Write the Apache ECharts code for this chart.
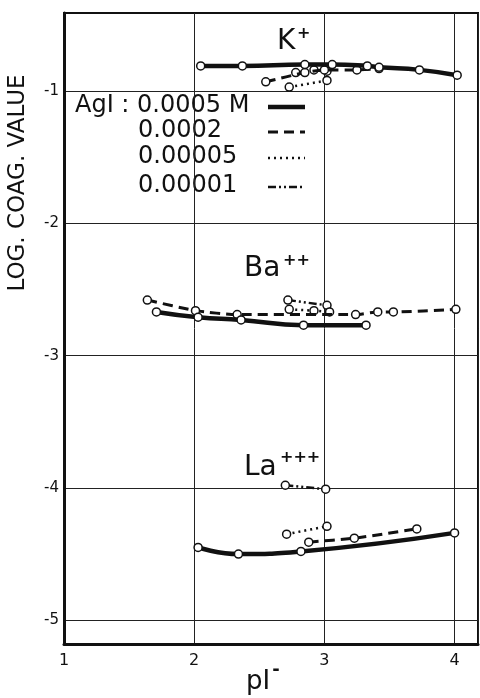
<!DOCTYPE html>
<html><head><meta charset="utf-8">
<script src="https://cdn.jsdelivr.net/npm/echarts@6/dist/echarts.min.js"></script>
<style>html,body{margin:0;padding:0;background:#fff}#c{width:480px;height:698px}</style>
</head><body><div id="c"></div>
<script>
// tick labels
const xTicks = [1, 2, 3, 4];
const yTicks = [-5, -4, -3, -2, -1];
// legend categories (AgI concentration)
const concentrations = ['0.0005 M', '0.0002', '0.00005', '0.00001'];
// K+ series  [pI-, log coag value]
const K_0005 = [[2.05,-0.81],[2.37,-0.81],[2.85,-0.80],[3.06,-0.80],[3.33,-0.81],[3.42,-0.82],[3.73,-0.84],[4.02,-0.88]];
const K_0002 = [[2.55,-0.93],[2.85,-0.86],[3.0,-0.84],[3.25,-0.84],[3.42,-0.83]];
const K_00005 = [[2.73,-0.97],[3.02,-0.92]];
const K_00001 = [[2.78,-0.86],[2.92,-0.84],[3.02,-0.85]];
// Ba++ series
const Ba_0005 = [[1.71,-2.67],[2.03,-2.71],[2.36,-2.73],[2.84,-2.77],[3.32,-2.77]];
const Ba_0002 = [[1.64,-2.58],[2.01,-2.66],[2.33,-2.69],[3.24,-2.69],[3.41,-2.67],[3.53,-2.67],[4.01,-2.65]];
const Ba_00005 = [[2.73,-2.65],[2.92,-2.66],[3.04,-2.67]];
const Ba_00001 = [[2.72,-2.58],[3.02,-2.62]];
// La+++ series
const La_0005 = [[2.03,-4.45],[2.34,-4.50],[2.82,-4.48],[4.0,-4.34]];
const La_0002 = [[2.88,-4.41],[3.23,-4.38],[3.71,-4.31]];
const La_00005 = [[2.71,-4.35],[3.02,-4.29]];
const La_00001 = [[2.70,-3.98],[3.01,-4.01]];

const FONT = 'DejaVu Sans';
const styles = [
  {width:4.5, type:'solid', smooth:0.5},
  {width:3, type:[10,6], smooth:0.2},
  {width:2.5, type:[2,4], smooth:0},
  {width:2.5, type:[8,3,2,3,2,3], smooth:0}
];
function mk(data, k) {
  const s = styles[k];
  return {
    type:'line', name: concentrations[k], data: data, smooth: s.smooth,
    symbol:'circle', symbolSize:8,
    itemStyle:{color:'#fff', borderColor:'#111', borderWidth:1.5},
    lineStyle:{color:'#111', width:s.width, type:s.type},
    z: 3 - k, animation:false
  };
}
const series = [
  mk(K_0005,0), mk(K_0002,1), mk(K_00005,2), mk(K_00001,3),
  mk(Ba_0005,0), mk(Ba_0002,1), mk(Ba_00005,2), mk(Ba_00001,3),
  mk(La_0005,0), mk(La_0002,1), mk(La_00005,2), mk(La_00001,3)
];
const chart = echarts.init(document.getElementById('c'));
const legendRows = [107, 132, 158, 187];
const graphics = [];
// legend texts
graphics.push({type:'text', left:75, top:94, style:{text:'AgI : ' + concentrations[0], font:'24px "'+FONT+'"', fill:'#111'}});
for (let i=1;i<4;i++) graphics.push({type:'text', left:138, top:legendRows[i]-13, style:{text:concentrations[i], font:'24px "'+FONT+'"', fill:'#111'}});
for (let i=0;i<4;i++) {
  const s = styles[i];
  graphics.push({type:'line', shape:{x1:268,y1:legendRows[i],x2:305,y2:legendRows[i]}, style:{stroke:'#111', lineWidth:s.width, lineDash: s.type==='solid'?null:s.type}});
}
// ion labels
graphics.push({type:'text', left:277, top:28, style:{text:'K', font:'28px "'+FONT+'"', fill:'#111'}});
graphics.push({type:'text', left:297, top:26, style:{text:'+', font:'bold 16px "'+FONT+'"', fill:'#111'}});
graphics.push({type:'text', left:244, top:255, style:{text:'Ba', font:'28px "'+FONT+'"', fill:'#111'}});
graphics.push({type:'text', left:283, top:253, style:{text:'++', font:'bold 16px "'+FONT+'"', fill:'#111'}});
graphics.push({type:'text', left:244, top:454, style:{text:'La', font:'28px "'+FONT+'"', fill:'#111'}});
graphics.push({type:'text', left:280, top:450, style:{text:'+++', font:'bold 16px "'+FONT+'"', fill:'#111'}});
// axis names
graphics.push({type:'text', x:18, y:183, rotation:Math.PI/2, style:{text:'LOG. COAG. VALUE', font:'23px "'+FONT+'"', fill:'#111', align:'center', verticalAlign:'middle'}});
graphics.push({type:'text', x:258, y:682, style:{text:'pI', font:'26px "'+FONT+'"', fill:'#111', align:'center', verticalAlign:'middle'}});
graphics.push({type:'text', x:276, y:670, style:{text:'-', font:'bold 18px "'+FONT+'"', fill:'#111', align:'center', verticalAlign:'middle'}});

chart.setOption({
  animation:false,
  grid:{left:64, right:2, top:13, bottom:54, show:true, borderColor:'#111', borderWidth:2},
  xAxis:{type:'value', min:1, max:4.18, interval:1,
    axisLine:{show:true, onZero:false, lineStyle:{color:'#111', width:3}},
    axisTick:{show:false},
    axisLabel:{color:'#111', fontSize:16, fontFamily:FONT, margin:9, customValues:xTicks},
    splitLine:{show:true, lineStyle:{color:'#222', width:1}}},
  yAxis:{type:'value', min:-5.18, max:-0.41,
    axisLine:{show:true, onZero:false, lineStyle:{color:'#111', width:3}},
    axisTick:{show:false, customValues:yTicks},
    axisLabel:{color:'#111', fontSize:15, fontFamily:FONT, margin:5, customValues:yTicks},
    splitLine:{show:true, lineStyle:{color:'#222', width:1}}},
  graphic: graphics,
  series: series
});
</script></body></html>
